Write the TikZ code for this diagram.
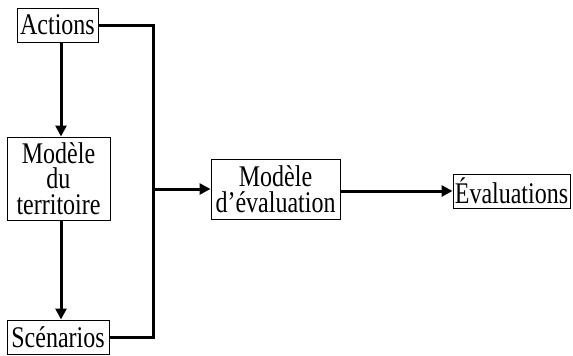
\documentclass[tikz,border=0pt]{standalone}
\usepackage{fontspec}
\setmainfont[FakeStretch=0.8]{Liberation Serif}
\usetikzlibrary{arrows.meta}
\begin{document}
\begin{tikzpicture}[x=1pt,y=-1pt,
  box/.style={draw,line width=1pt,inner sep=0pt,align=center,
    font=\fontsize{30}{25.5}\selectfont},
  link/.style={line width=3pt},
  flow/.style={link,-{Triangle[length=11pt,width=11pt]}}]
\useasboundingbox (0,0) rectangle (573,356);
% boxes
\node[box,minimum width=81pt,minimum height=34pt] (act) at (57.5,25) {Actions};
\node[box,minimum width=103pt,minimum height=83pt] (terr) at (58.5,178.5) {Modèle\\du\\territoire};
\node[box,minimum width=102pt,minimum height=34pt] (sce) at (58,337) {Scénarios};
\node[box,minimum width=129pt,minimum height=60pt] (mev) at (275.5,189) {Modèle\\d’évaluation};
\node[box,minimum width=117pt,minimum height=34pt] (eva) at (511.5,191) {Évaluations};
% junction points
\coordinate (col) at (61,0);
\coordinate (jtop) at (153,25);
\coordinate (jbot) at (153,337);
\coordinate (jmid) at (153,189);
% connectors
\draw[link,line join=miter] (act.east) -- (jtop) -- (jbot) -- (sce.east);
\draw[flow] (act.south -| col) -- (terr.north -| col);
\draw[flow] (terr.south -| col) -- (sce.north -| col);
\draw[flow] (jmid) -- (mev.west);
\draw[flow] (mev.east |- eva.west) -- (eva.west);
\end{tikzpicture}
\end{document}
